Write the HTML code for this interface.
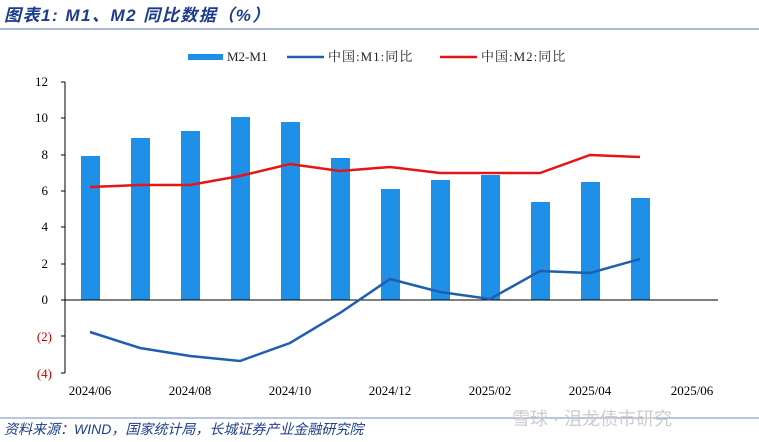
<!DOCTYPE html><html><head><meta charset="utf-8"><style>body{margin:0;background:#fff}svg{display:block}</style></head><body>
<svg width="759" height="442" xmlns="http://www.w3.org/2000/svg" font-family="'Liberation Serif','Noto Serif CJK SC',serif">
<text x="4" y="21" font-family="'Liberation Sans','Noto Sans CJK SC',sans-serif" font-style="italic" font-weight="bold" font-size="17" letter-spacing="1.5" fill="#1c3c8c">图表1:  M1、M2 同比数据（%）</text>
<line x1="0" y1="29" x2="759" y2="29" stroke="#8fa3c8" stroke-width="1.5"/>
<g font-size="13" fill="#222">
<rect x="188" y="54" width="35" height="6" fill="#1e90e8"/><text x="227" y="61">M2-M1</text>
<line x1="287" y1="57" x2="324" y2="57" stroke="#1f5fae" stroke-width="2.5"/><text x="328" y="61" letter-spacing="1">中国:M1:同比</text>
<line x1="440" y1="57" x2="477" y2="57" stroke="#e51515" stroke-width="2.5"/><text x="481" y="61" letter-spacing="1">中国:M2:同比</text>
</g>
<line x1="65" y1="82" x2="65" y2="373" stroke="#000"/>
<g stroke="#000"><line x1="61" y1="82" x2="65" y2="82"/><line x1="61" y1="118" x2="65" y2="118"/><line x1="61" y1="155" x2="65" y2="155"/><line x1="61" y1="191" x2="65" y2="191"/><line x1="61" y1="227" x2="65" y2="227"/><line x1="61" y1="264" x2="65" y2="264"/><line x1="61" y1="300" x2="65" y2="300"/><line x1="61" y1="336" x2="65" y2="336"/><line x1="61" y1="373" x2="65" y2="373"/></g>
<g font-size="13" text-anchor="end"><text x="48" y="86">12</text><text x="48" y="122">10</text><text x="48" y="159">8</text><text x="48" y="195">6</text><text x="48" y="231">4</text><text x="48" y="268">2</text><text x="48" y="304">0</text><text x="52" y="341" fill="#c00000">(2)</text><text x="52" y="378" fill="#c00000">(4)</text></g>
<g fill="#1e90e8">
<rect x="81" y="156" width="19" height="144"/><rect x="131" y="138" width="19" height="162"/><rect x="181" y="131" width="19" height="169"/><rect x="231" y="117" width="19" height="183"/><rect x="281" y="122" width="19" height="178"/><rect x="331" y="158" width="19" height="142"/><rect x="381" y="189" width="19" height="111"/><rect x="431" y="180" width="19" height="120"/><rect x="481" y="175" width="19" height="125"/><rect x="531" y="202" width="19" height="98"/><rect x="581" y="182" width="19" height="118"/><rect x="631" y="198" width="19" height="102"/>
</g>
<line x1="65" y1="300" x2="718" y2="300" stroke="#000"/>
<polyline fill="none" stroke="#e51515" stroke-width="2.5" points="90,187 140,185 190,185 240,176 290,164 340,171 390,167 440,173 490,173 540,173 590,155 640,157"/>
<polyline fill="none" stroke="#1f5fae" stroke-width="2.5" points="90,332 140,348 190,356 240,361 290,343 340,313 390,279 440,292 490,299 540,271 590,273 640,259"/>
<g font-size="13" text-anchor="middle"><text x="90" y="395">2024/06</text><text x="190" y="395">2024/08</text><text x="290" y="395">2024/10</text><text x="390" y="395">2024/12</text><text x="490" y="395">2025/02</text><text x="590" y="395">2025/04</text><text x="692" y="395">2025/06</text></g>
<line x1="0" y1="418" x2="759" y2="418" stroke="#8fa3c8" stroke-width="1.2"/>
<text x="4" y="434" font-family="'Liberation Sans','Noto Sans CJK SC',sans-serif" font-style="italic" font-size="14" fill="#1c3c8c">资料来源：WIND，国家统计局，长城证券产业金融研究院</text>
<text x="512" y="425" font-family="'Liberation Sans','Noto Sans CJK SC',sans-serif" font-size="18" fill="#ccc">雪球 · 沮龙债市研究</text>
</svg>
</body></html>
